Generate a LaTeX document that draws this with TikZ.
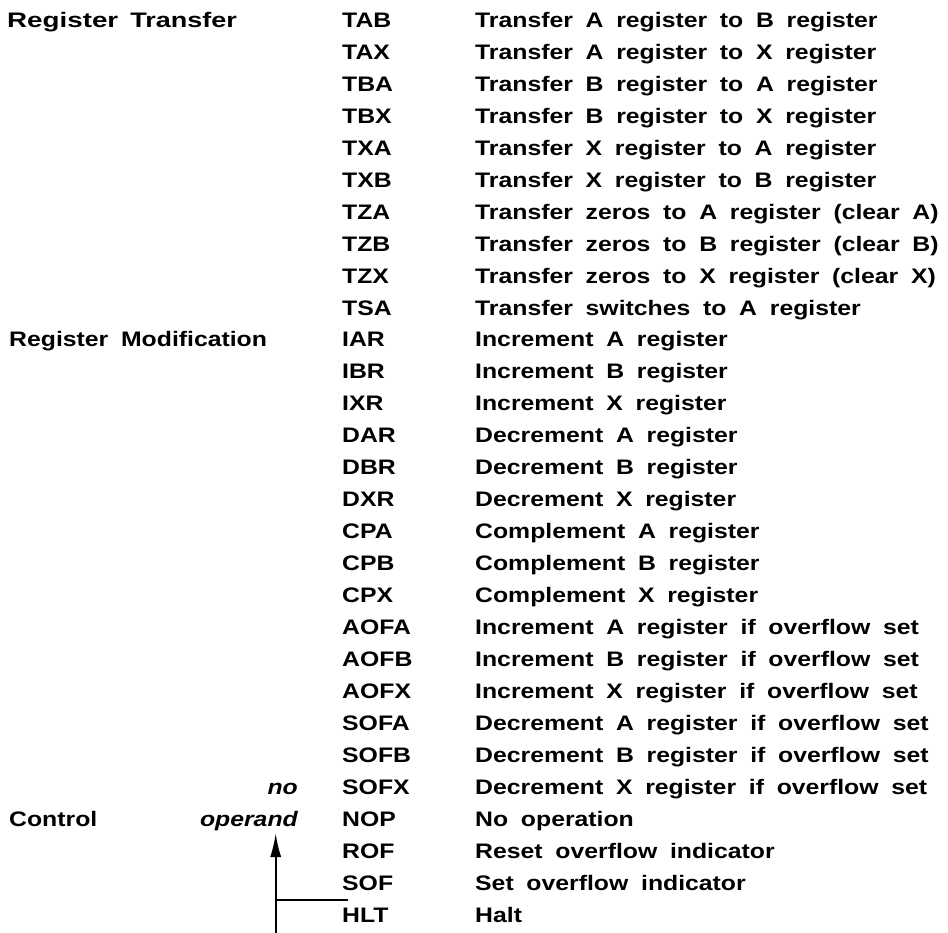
\documentclass[tikz,border=0pt]{standalone}
\usepackage{fontspec}
\setmainfont{Liberation Sans}[FakeStretch=1.18, WordSpace=1.85]
\usetikzlibrary{arrows.meta}
\begin{document}
\begin{tikzpicture}[x=1pt,y=-1pt,
  txt/.style={inner sep=0pt, anchor=base west, font=\fontsize{21}{21}\selectfont\bfseries},
  itxt/.style={inner sep=0pt, anchor=base east, font=\fontsize{21}{21}\selectfont\bfseries\itshape},
  conn/.style={line width=2pt}]
\useasboundingbox (0,0) rectangle (948,933);
\foreach \m/\d [count=\i] in {
 TAB/Transfer A register to B register,
 TAX/Transfer A register to X register,
 TBA/Transfer B register to A register,
 TBX/Transfer B register to X register,
 TXA/Transfer X register to A register,
 TXB/Transfer X register to B register,
 TZA/Transfer zeros to A register (clear A),
 TZB/Transfer zeros to B register (clear B),
 TZX/Transfer zeros to X register (clear X),
 TSA/Transfer switches to A register,
 IAR/Increment A register,
 IBR/Increment B register,
 IXR/Increment X register,
 DAR/Decrement A register,
 DBR/Decrement B register,
 DXR/Decrement X register,
 CPA/Complement A register,
 CPB/Complement B register,
 CPX/Complement X register,
 AOFA/Increment A register if overflow set,
 AOFB/Increment B register if overflow set,
 AOFX/Increment X register if overflow set,
 SOFA/Decrement A register if overflow set,
 SOFB/Decrement B register if overflow set,
 SOFX/Decrement X register if overflow set,
 NOP/No operation,
 ROF/Reset overflow indicator,
 SOF/Set overflow indicator,
 HLT/Halt}{
  \pgfmathsetmacro{\yy}{27.5+31.95*(\i-1)}
  \node[txt] (m\i) at (342,\yy) {\m};
  \node[txt] (d\i) at (475,\yy) {\d};
}
\node[txt] (c1) at (7,27.5) {\scalebox{1.12}[1]{Register}\hspace{12pt}\scalebox{1.09}[1]{Transfer}};
\node[txt] (c2) at (9,27.5+31.95*10) {Register Modification};
\node[txt] (c3) at (9,27.5+31.95*25) {Control};
\node[itxt] (no) at (298,27.5+31.95*24) {no};
\node[itxt] (op) at (298,27.5+31.95*25) {operand};
\coordinate (abot) at (275.7,933);
\coordinate (atip) at (275.7,833);
\coordinate (hl) at (275.7,900);
\coordinate (hr) at (347.7,900);
\draw[conn,-{Latex[length=24pt,width=11pt]}] (abot) -- (atip);
\draw[conn] (hl) -- (hr);
\end{tikzpicture}
\end{document}
